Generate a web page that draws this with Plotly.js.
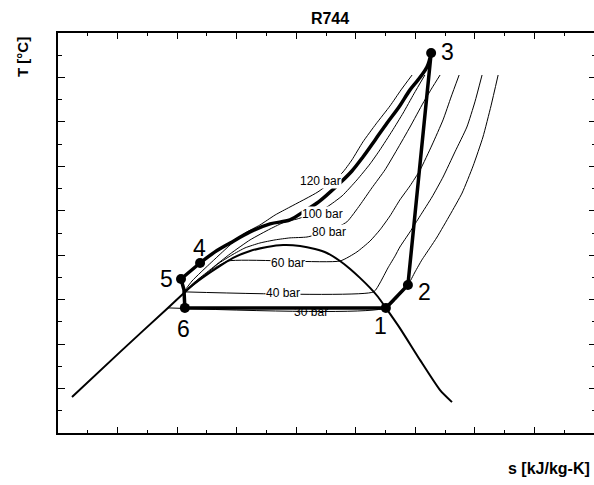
<!DOCTYPE html>
<html><head><meta charset="utf-8">
<script src="https://cdn.plot.ly/plotly-3.0.1.min.js"></script>
<style>html,body{margin:0;padding:0;overflow:hidden;background:#fff}#chart{width:600px;height:485px}</style>
</head><body><div id="chart"></div>
<script>
// ---- data (s in kJ/kg-K, T in °C) ----
const satS = [0.647,0.808,0.969,1.023,1.053,1.094,1.134,1.188,1.245,1.302,1.356,1.413,1.463,1.503,1.547,1.581,1.614,1.648,1.675,1.701,1.748,1.816,1.883,1.923];
const satT = [-38.8,-18.6,1.3,8.0,11.6,15.7,19.3,23.8,26.9,28.7,29.6,29.2,27.8,26.0,22.4,18.8,14.8,10.3,6.2,1.3,-7.8,-22.2,-35.7,-41.1];

const p120S = [1.020,1.050,1.077,1.127,1.178,1.228,1.278,1.329,1.379,1.473,1.554,1.587,1.624,1.668,1.715,1.752,1.789];
const p120T = [8.0,13.4,17.0,23.3,29.6,35.0,38.6,43.1,46.7,53.5,62.0,67.9,76.0,84.1,92.2,99.4,106.1];

const p100S = [1.020,1.060,1.110,1.178,1.245,1.312,1.362,1.403,1.453,1.503,1.554,1.604,1.648,1.681,1.722,1.759,1.795,1.832];
const p100T = [8.0,13.0,18.4,25.6,31.9,36.8,40.0,41.3,43.6,46.7,51.7,58.9,66.1,72.4,80.9,89.0,97.6,106.1];

const p80S = [1.020,1.060,1.094,1.137,1.184,1.228,1.278,1.329,1.379,1.436,1.510,1.570,1.614,1.654,1.698,1.738,1.782,1.826,1.856,1.883];
const p80T = [8.0,12.1,16.1,21.1,25.1,28.3,30.5,31.9,32.8,33.2,35.9,40.0,47.6,55.3,63.4,72.4,82.7,93.5,100.3,106.1];

const p60S = [1.020,1.060,1.110,1.171,1.547,1.604,1.648,1.681,1.715,1.748,1.782,1.816,1.856,1.893,1.920,1.947];
const p60T = [8.0,13.0,17.9,22.4,22.4,26.5,31.4,36.4,42.7,49.9,56.2,63.4,74.6,85.9,96.2,106.1];

const p40S = [1.025,1.660,1.681,1.708,1.732,1.748,1.782,1.816,1.856,1.893,1.933,1.973,2.000,2.024];
const p40T = [8.5,8.5,12.5,19.3,24.7,28.7,35.5,42.7,51.2,60.2,71.5,82.7,94.0,106.1];

const p30S = [0.969,1.701,1.775,1.799,1.822,1.849,1.873,1.916,1.957,1.994,2.027,2.054,2.078];
const p30T = [1.3,1.3,11.6,17.5,22.9,28.3,33.2,43.1,53.0,65.2,78.2,92.2,106.1];

// gas cooler path 3 -> 4
const gasCoolerS = [1.853,1.839,1.809,1.782,1.745,1.705,1.665,1.624,1.587,1.547,1.507,1.470,1.423,1.379,1.312,1.245,1.178,1.127,1.077];
const gasCoolerT = [116.0,109.7,103.9,99.4,91.7,84.5,76.9,69.2,62.9,57.5,52.6,48.5,44.5,40.9,39.1,35.5,30.5,26.5,21.5];
// rest of the cycle 4 -> 5 -> 6 -> 1 -> 2 -> 3
const cycleRestS = [1.077,1.013,1.023,1.026,1.701,1.775,1.853];
const cycleRestT = [21.5,14.3,9.4,1.3,1.3,11.6,116.0];

const stateNames = ['1','2','3','4','5','6'];
const stateS = [1.701,1.775,1.853,1.077,1.013,1.026];
const stateT = [1.3,11.6,116.0,21.5,14.3,1.3];

const isobarNames = ['120 bar','100 bar','80 bar','60 bar','40 bar','30 bar'];
const isobarLabelS = [1.480,1.487,1.510,1.372,1.356,1.450];
const isobarLabelT = [58.4,43.6,35.5,21.5,8.0,-1.0];

// ---- styling ----
const FONT = 'Liberation Sans, Arial, sans-serif';
const stateShift = {'1':[-5,-18],'2':[17,-7],'3':[16,1],'4':[-1,15],'5':[-14,0],'6':[-1,-21]};

const thin = {color:'#000', width:1, shape:'spline', smoothing:0.5};
const isobars = [[p120S,p120T],[p100S,p100T],[p80S,p80T],[p60S,p60T],[p40S,p40T],[p30S,p30T]];
const traces = isobars.map(([s,t]) => ({x:s, y:t, type:'scatter', mode:'lines', line:thin, hoverinfo:'skip', showlegend:false}));
traces.push({x:satS, y:satT, type:'scatter', mode:'lines', line:{color:'#000', width:2, shape:'spline', smoothing:0.6}, showlegend:false});
traces.push({x:[isobarLabelS[5]], y:[isobarLabelT[5]], type:'scatter', mode:'text', text:[isobarNames[5]], textposition:'middle center', textfont:{family:FONT,size:12,color:'#000'}, showlegend:false});
traces.push({x:gasCoolerS, y:gasCoolerT, type:'scatter', mode:'lines', line:{color:'#000', width:3.5, shape:'spline', smoothing:1}, showlegend:false});
traces.push({x:cycleRestS, y:cycleRestT, type:'scatter', mode:'lines', line:{color:'#000', width:3.5}, showlegend:false});
traces.push({x:stateS, y:stateT, type:'scatter', mode:'markers', marker:{color:'#000', size:10}, showlegend:false});

const annotations = [];
for (let i = 0; i < 5; i++) {
  annotations.push({x:isobarLabelS[i], y:isobarLabelT[i], xref:'x', yref:'y', text:isobarNames[i], showarrow:false,
    xanchor:'center', yanchor:'middle', font:{family:FONT,size:12,color:'#000'}, bgcolor:'#fff', borderpad:0});
}
stateNames.forEach((n,i) => {
  annotations.push({x:stateS[i], y:stateT[i], xref:'x', yref:'y', text:n, showarrow:false, xanchor:'center', yanchor:'middle',
    xshift:stateShift[n][0], yshift:stateShift[n][1], font:{family:FONT,size:23,color:'#000'}});
});
annotations.push({xref:'paper', yref:'paper', x:0, y:1, xanchor:'center', yanchor:'middle', xshift:-36, yshift:-24, text:'<b>T [°C]</b>', textangle:-90, showarrow:false, font:{family:FONT,size:15,color:'#000'}});
annotations.push({xref:'paper', yref:'paper', x:0.9926, y:0, xanchor:'right', yanchor:'middle', yshift:-35, text:'<b>s [kJ/kg-K]</b>', showarrow:false, font:{family:FONT,size:16,color:'#000'}});

const layout = {
  width:600, height:485,
  margin:{l:58, r:4, t:33, b:52},
  paper_bgcolor:'#fff', plot_bgcolor:'#fff',
  showlegend:false,
  title:{text:'<b>R744</b>', x:0.55, xanchor:'center', y:0.963, yanchor:'middle', yref:'container', font:{family:FONT,size:16,color:'#000'}},
  xaxis:{range:[0.6,2.4066], tick0:0.6, dtick:0.2, ticks:'inside', ticklen:6, tickwidth:1, tickcolor:'#000',
    minor:{dtick:0.1, tick0:0.6, ticks:'inside', ticklen:3, tickwidth:1, tickcolor:'#000'},
    showticklabels:false, showgrid:false, zeroline:false, showline:true, linewidth:2, linecolor:'#000', mirror:'ticks'},
  yaxis:{range:[-55,125], tick0:-55, dtick:20, ticks:'inside', ticklen:7, tickwidth:1, tickcolor:'#000',
    minor:{dtick:10, tick0:-55, ticks:'inside', ticklen:4, tickwidth:1, tickcolor:'#000'},
    showticklabels:false, showgrid:false, zeroline:false, showline:true, linewidth:2, linecolor:'#000', mirror:'ticks'},
  annotations:annotations
};
Plotly.newPlot('chart', traces, layout, {displayModeBar:false, staticPlot:true});
</script></body></html>
